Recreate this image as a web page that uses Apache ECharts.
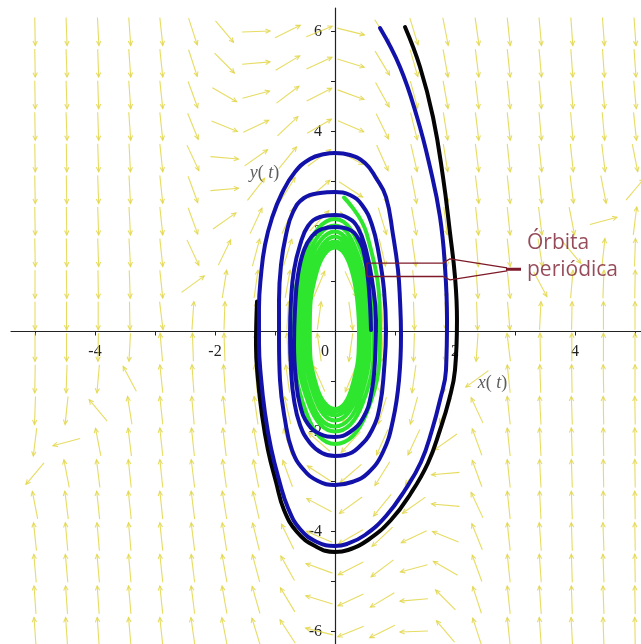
<!DOCTYPE html>
<html>
<head>
<meta charset="utf-8">
<script src="https://cdn.jsdelivr.net/npm/echarts@6/dist/echarts.min.js"></script>
<style>
  html, body { margin: 0; padding: 0; background: #ffffff; }
  #chart { width: 641px; height: 644px; }
</style>
</head>
<body>
<div id="chart"></div>
<script>
// Direction field grid (20 x 20) and arrow angles in degrees (screen, CCW from +x)
const fieldX = [-5, -4.474, -3.947, -3.421, -2.895, -2.368, -1.842, -1.316, -0.789, -0.263,
                0.263, 0.789, 1.316, 1.842, 2.368, 2.895, 3.421, 3.947, 4.474, 5];
const fieldY = [6, 5.368, 4.737, 4.105, 3.474, 2.842, 2.211, 1.579, 0.947, 0.316,
                -0.316, -0.947, -1.579, -2.211, -2.842, -3.474, -4.105, -4.737, -5.368, -6];
const fieldAngles = [
  [-89,-88,-87,-86,-84,-72,-50,2,26,22,-14,-57,-73,-79,-82,-84,-85,-86,-86,-86],
  [-89,-88,-88,-86,-84,-72,-45,5,31,25,-17,-59,-74,-80,-83,-84,-85,-86,-86,-86],
  [-89,-88,-88,-86,-84,-70,-30,15,37,27,-20,-61,-75,-80,-83,-84,-85,-85,-85,-85],
  [-89,-88,-88,-86,-84,-68,-22,25,43,30,-23,-64,-76,-81,-83,-84,-85,-85,-85,-84],
  [-89,-89,-88,-87,-84,-65,-5,35,51,36,-28,-66,-77,-81,-83,-84,-84,-84,-83,-79],
  [-89,-89,-88,-87,-84,-70,5,52,58,41,-33,-70,-79,-82,-83,-84,-84,-83,-79,50],
  [-89,-89,-88,-87,-84,-70,35,65,66,47,-41,-73,-80,-83,-84,-84,-83,-79,15,83],
  [-89,-89,-88,-87,-84,-65,64,75,73,56,-52,-77,-82,-84,-85,-84,-81,-50,84,88],
  [-90,-89,-89,-88,-84,36,81,82,80,67,-66,-82,-85,-86,-86,-84,-62,85,88,89],
  [-90,-90,-90,-89,-83,86,88,88,87,82,-82,-87,-88,-88,-88,-85,87,89,90,90],
  [-90,-90,-91,-93,95,92,92,92,93,98,-98,-93,-92,-92,-94,97,91,90,90,90],
  [-91,-92,-95,118,96,94,94,95,98,114,-113,-100,-98,-99,-144,96,92,91,91,90],
  [-92,-96,130,99,96,95,96,98,103,128,-124,-107,-105,-116,115,96,93,92,91,91],
  [-97,-165,101,97,96,96,97,100,107,139,-133,-114,-115,-145,110,96,93,92,91,91],
  [-130,101,97,96,96,97,98,101,110,147,-139,-122,-128,-175,110,96,93,92,91,91],
  [101,97,96,96,96,97,99,103,114,152,-144,-129,-145,175,115,96,93,92,91,91],
  [96,95,95,95,96,97,99,104,116,157,-150,-137,-155,158,112,96,94,92,92,91],
  [95,95,95,95,96,97,100,105,119,160,-153,-143,-165,150,110,96,94,92,92,91],
  [94,94,94,95,96,97,100,106,121,163,-155,-149,-175,135,108,96,94,92,92,91],
  [94,94,94,95,96,98,101,107,123,166,-158,-154,-178,130,108,96,94,93,92,91]
];

// Trajectories (x(t), y(t))
const blackOrbit = [
  [1.167,6.09],[1.417,5.29],[1.633,4.29],[1.8,3.09],[1.917,1.97],[2.0,1.09],[2.033,0.23],
  [2.0,-0.77],[1.9,-1.37],[1.75,-1.97],[1.55,-2.63],[1.267,-3.23],[0.933,-3.77],[0.55,-4.17],
  [0.217,-4.37],[0,-4.41],[-0.333,-4.29],[-0.633,-4.01],[-0.85,-3.57],[-0.983,-3.01],
  [-1.117,-2.37],[-1.217,-1.67],[-1.283,-0.97],[-1.317,-0.27],[-1.3,0.6]
];
const blueOrbit = [
  [0.75,6.07],[1.083,5.29],[1.367,4.29],[1.583,3.29],[1.75,2.29],[1.833,1.29],[1.867,0.23],
  [1.85,-0.77],[1.75,-1.37],[1.617,-1.97],[1.433,-2.61],[1.167,-3.17],[0.85,-3.69],[0.5,-4.07],
  [0.2,-4.25],[0,-4.29],[-0.3,-4.21],[-0.583,-3.95],[-0.783,-3.53],[-0.933,-2.97],[-1.067,-2.33],
  [-1.167,-1.63],[-1.233,-0.93],[-1.267,-0.23],[-1.267,0.47],[-1.233,1.13],[-1.167,1.73],
  [-1.05,2.27],[-0.883,2.77],[-0.667,3.19],[-0.417,3.45],[-0.167,3.55],[0,3.57],[0.25,3.53],
  [0.5,3.37],[0.683,3.07],[0.85,2.69],[0.967,1.93],[1.05,1.23],[1.083,0.63],[1.1,-0.07],
  [1.067,-0.97],[0.967,-1.77],[0.8,-2.41],[0.55,-2.83],[0.283,-3.01],[0,-3.07],[-0.283,-2.99],
  [-0.533,-2.75],[-0.717,-2.37],[-0.833,-1.77],[-0.917,-0.97],[-0.933,-0.17],[-0.933,0.63],
  [-0.9,1.33],[-0.817,1.93],[-0.7,2.39],[-0.517,2.67],[-0.25,2.77],[0,2.79],[0.25,2.73],
  [0.45,2.53],[0.617,2.13],[0.733,1.53],[0.817,0.83],[0.85,0.03],[0.817,-0.77],[0.75,-1.47],
  [0.617,-1.97],[0.383,-2.33],[0.167,-2.47],[0,-2.49],[-0.217,-2.43],[-0.417,-2.23],
  [-0.583,-1.87],[-0.683,-1.37],[-0.733,-0.77],[-0.75,-0.07],[-0.733,0.63],[-0.683,1.23],
  [-0.583,1.73],[-0.45,2.11],[-0.25,2.29],[0,2.33],[0.217,2.27],[0.383,2.07],[0.517,1.63],
  [0.617,1.03],[0.683,0.23],[0.667,-0.57],[0.6,-1.27],[0.467,-1.73],[0.25,-2.01],[0,-2.11],
  [-0.25,-2.05],[-0.45,-1.85],[-0.583,-1.47],[-0.65,-0.97],[-0.683,-0.27],[-0.667,0.43],
  [-0.617,1.13],[-0.517,1.63],[-0.383,1.91],[-0.217,2.05],[0,2.09],[0.217,2.05],[0.383,1.87],
  [0.5,1.47],[0.567,0.83],[0.6,0.03]
];
const greenOrbit = [
  [0.15,2.68],[0.53,1.95],[0.75,0.05],[0.53,-1.62],[0,-2.25],[-0.48,-1.62],[-0.68,0],[-0.48,1.62],[0,2.25],
  [0.46,1.53],[0.65,0.05],[0.46,-1.44],[0,-2.0],[-0.44,-1.44],[-0.62,0],[-0.44,1.53],[0,2.12],
  [0.41,1.44],[0.58,0.05],[0.41,-1.37],[0,-1.9],[-0.4,-1.37],[-0.56,0],[-0.4,1.44],[0,2.0],
  [0.37,1.37],[0.52,0.05],[0.37,-1.28],[0,-1.78],[-0.35,-1.28],[-0.5,0],[-0.35,1.37],[0,1.9],
  [0.33,1.3],[0.47,0.05],[0.33,-1.21],[0,-1.68],[-0.33,-1.21],[-0.46,0],[-0.33,1.3],[0,1.8],
  [0.3,1.24],[0.43,0.05],[0.3,-1.15],[0,-1.6],[-0.3,-1.15],[-0.43,0],[-0.3,1.24],[0,1.72],
  [0.28,1.21],[0.4,0.05],[0.28,-1.12],[0,-1.55],[-0.3,-1.12],[-0.42,0],[-0.3,1.21],[0,1.68],
  [0.28,1.21],[0.4,0.05]
];

// Annotation bracket pointing at the periodic orbit
const bracketUpper = [[0.533,1.368],[1.8,1.368],[1.917,1.454],[2.867,1.274]];
const bracketLower = [[0.533,1.1],[1.8,1.1],[1.917,1.034],[2.867,1.214]];
const bracketLeft = [[0.533,1.368],[0.533,1.1]];
const bracketBar = [[2.85,1.244],[3.1,1.244]];
const annotationText = 'Órbita\nperiódica';
const annotationAnchor = [3.2, 1.5];

// Axis ticks and labels
const xTickValues = [-5,-4,-3,-2,-1,0,1,2,3,4,5];
const xLabelValues = [-4,-2,0,2,4];
const yTickValues = [-6,-5,-4,-3,-2,-1,0,1,2,3,4,5,6];
const yLabelValues = [-6,-4,-2,2,4,6];
const xName = [2.625, -1.036];
const yName = [-1.175, 3.164];

const fieldData = [];
fieldY.forEach((yv, r) => {
  fieldX.forEach((xv, c) => fieldData.push([xv, yv, fieldAngles[r][c]]));
});

const serif = 'Liberation Serif';
const arrowStyle = { stroke: 'rgba(226,214,70,0.85)', lineWidth: 1.1, fill: null };

function renderArrow(params, api) {
  const c = api.coord([api.value(0), api.value(1)]);
  const a = api.value(2) * Math.PI / 180;
  const half = 14, head = 5, spread = 0.45;
  const ux = Math.cos(a), uy = -Math.sin(a);
  const tail = [c[0] - ux * half, c[1] - uy * half];
  const tip = [c[0] + ux * half, c[1] + uy * half];
  const b1 = [tip[0] - head * Math.cos(a - spread), tip[1] + head * Math.sin(a - spread)];
  const b2 = [tip[0] - head * Math.cos(a + spread), tip[1] + head * Math.sin(a + spread)];
  return {
    type: 'group',
    children: [
      { type: 'polyline', shape: { points: [tail, tip] }, style: arrowStyle },
      { type: 'polyline', shape: { points: [b1, tip, b2] }, style: arrowStyle }
    ]
  };
}

function orbitSeries(data, color, z) {
  return {
    type: 'line', data: data, smooth: 0.45, showSymbol: false, silent: true, z: z,
    lineStyle: { color: color, width: 4, cap: 'round', join: 'round' }
  };
}

function bracketSeries(data, width) {
  return {
    type: 'line', data: data, showSymbol: false, silent: true, z: 6,
    lineStyle: { color: '#7e1a28', width: width }
  };
}

// Plot area: x -5.4..5.1 over 630 px (60 px/unit), y -6.25..6.47 over 636 px (50 px/unit).
const gridBox = { left: 11, top: 8, width: 630, height: 636 };
const xMin = -5.4, xMax = 5.1, yMin = -6.25, yMax = 6.47;
// Shift both axes so they cross at the origin (the axes carry their ticks and labels along)
const yAxisShift = -gridBox.width * (0 - xMin) / (xMax - xMin);
const xAxisShift = -gridBox.height * (0 - yMin) / (yMax - yMin);

const chart = echarts.init(document.getElementById('chart'), null, { renderer: 'canvas' });
chart.setOption({
  animation: false,
  backgroundColor: '#ffffff',
  grid: Object.assign({ containLabel: false, outerBoundsMode: 'none' }, gridBox),
  xAxis: {
    type: 'value', min: xMin, max: xMax, position: 'bottom', offset: xAxisShift,
    axisLine: { onZero: false, lineStyle: { color: '#222', width: 1.2 } },
    axisTick: { show: true, length: 4, customValues: xTickValues, lineStyle: { color: '#222' } },
    axisLabel: {
      show: true, customValues: xLabelValues, margin: 12, color: '#222', fontFamily: serif, fontSize: 16,
      formatter: function (v) { return v === 0 ? '{o|0}' : String(v); },
      rich: { o: { padding: [0, 20, 0, 0], fontFamily: serif, fontSize: 16, color: '#222' } }
    },
    splitLine: { show: false }
  },
  yAxis: {
    type: 'value', min: yMin, max: yMax, position: 'left', offset: yAxisShift,
    axisLine: { onZero: false, lineStyle: { color: '#222', width: 1.2 } },
    axisTick: { show: true, length: 4, customValues: yTickValues, lineStyle: { color: '#222' } },
    axisLabel: {
      show: true, customValues: yLabelValues, margin: 13, color: '#222', fontFamily: serif, fontSize: 16
    },
    splitLine: { show: false }
  },
  series: [
    {
      type: 'custom', data: fieldData, renderItem: renderArrow, silent: true, z: 1,
      encode: { x: 0, y: 1 }
    },
    orbitSeries(blackOrbit, '#050505', 3),
    orbitSeries(greenOrbit, '#2ee62e', 4),
    orbitSeries(blueOrbit, '#1212aa', 5),
    bracketSeries(bracketUpper, 1.3),
    bracketSeries(bracketLower, 1.3),
    bracketSeries(bracketLeft, 1.3),
    bracketSeries(bracketBar, 3),
    {
      type: 'scatter', symbolSize: 0, silent: true, z: 7,
      data: [annotationAnchor],
      label: {
        show: true, position: 'right', distance: 0, formatter: annotationText,
        color: '#7a1e30', fontFamily: 'Open Sans', fontSize: 21,
        lineHeight: 27, align: 'left'
      }
    },
    {
      type: 'scatter', symbolSize: 0, silent: true, z: 7,
      data: [xName, yName],
      label: {
        show: true, position: 'inside',
        formatter: function (p) {
          return p.dataIndex === 0 ? '{i|x}{n|( }{i|t}{n|)}' : '{i|y}{n|( }{i|t}{n|)}';
        },
        rich: {
          i: { fontFamily: serif, fontStyle: 'italic', fontSize: 18, color: '#333' },
          n: { fontFamily: serif, fontSize: 18, color: '#333' }
        }
      }
    }
  ]
});
</script>
</body>
</html>
